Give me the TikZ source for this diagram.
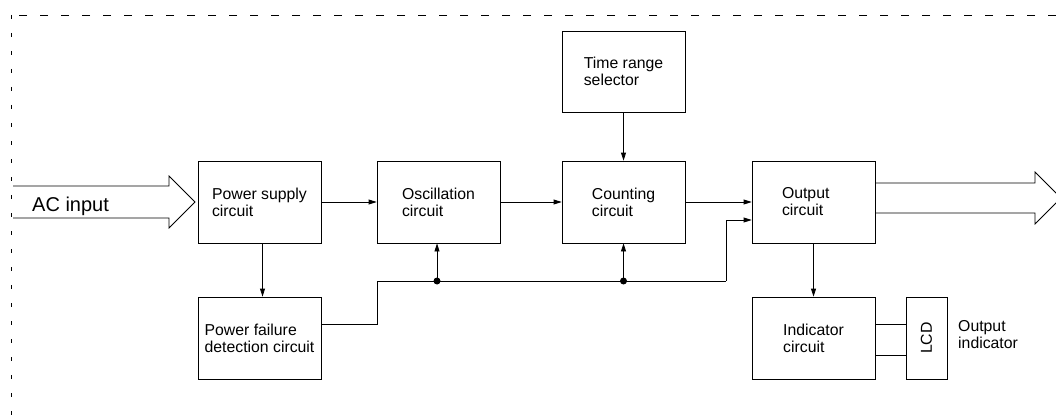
\documentclass[tikz,border=0pt]{standalone}
\usepackage{fontspec}
\setmainfont{Liberation Sans}
\usetikzlibrary{arrows.meta,positioning,calc}

\tikzset{
    block/.style={draw, line width=0.8pt, minimum width=123pt, minimum height=82pt, align=left, font=\fontsize{15.8}{17}\selectfont},
    sig/.style={line width=0.8pt, -{Triangle[length=8pt,width=5pt]}},
    wire/.style={line width=0.8pt},
    frame/.style={line width=0.6pt, dash pattern=on 8pt off 13pt}
}

\begin{document}
\begin{tikzpicture}[x=1pt, y=-1pt]
    \useasboundingbox (0,0) rectangle (1056,417);

    % Dashed frame
    \draw[frame] (1056,15) -- (11,15);
    \draw[line width=0.6pt, dash pattern=on 4pt off 14pt] (11,15) -- (11,417);

    % Blocks
    \node[block] (psu) at (259.5,202) {Power supply\\circuit};
    \node[block] (pfd) at (259.5,338) {Power failure\\detection circuit};
    \node[block] (osc) at (438.5,202) {Oscillation\\circuit};
    \node[block] (cnt) at (623.5,202) {Counting\\circuit};
    \node[block, minimum height=81pt] (trs) at (623.5,71.5) {Time range\\selector};
    \node[block, text width=63pt] (outc) at (813.5,202) {Output\\circuit};
    \node[block] (ind) at (813.5,338) {Indicator\\circuit};
    \node[block, minimum width=82pt, minimum height=41pt, rotate=90] (lcd) at (926.5,338) {LCD};
    \node[font=\fontsize{15.8}{17}\selectfont, align=left, anchor=west, inner sep=0pt] (outind) at (958,335) {Output\\indicator};

    % AC input arrow
    \coordinate (actail) at (13,202);
    \coordinate (actip) at (195,202);
    \draw[wire] ($(actail)+(0,-16)$) -- ($(actip)+(-26,-16)$) -- ($(actip)+(-26,-26)$) -- (actip)
        -- ($(actip)+(-26,26)$) -- ($(actip)+(-26,16)$) -- ($(actail)+(0,16)$);
    \node[font=\fontsize{20}{22}\selectfont, anchor=base west, inner sep=0pt] (acin) at (32,211) {AC input};

    % Output arrow
    \coordinate (outtail) at (875,198);
    \coordinate (outtip) at (1061,198);
    \draw[wire] ($(outtail)+(0,-15)$) -- ($(outtip)+(-26,-15)$) -- ($(outtip)+(-26,-26)$) -- (outtip)
        -- ($(outtip)+(-26,26)$) -- ($(outtip)+(-26,15)$) -- ($(outtail)+(0,15)$);

    % Signal flow
    \draw[sig] (psu) -- (osc);
    \draw[sig] (osc) -- (cnt);
    \draw[sig] (cnt) -- (outc);
    \draw[sig] ([xshift=3pt]psu.south) -- ([xshift=3pt]pfd.north);
    \draw[sig] (trs) -- (cnt);
    \draw[sig] (outc) -- (ind);

    % Power failure bus
    \coordinate (bus1) at (377,281);
    \coordinate (bus2) at (726,281);
    \coordinate (j1) at (437,281);
    \coordinate (j2) at (623.5,281);
    \draw[wire] ([yshift=14pt]pfd.east) -| (bus1) -- (bus2);
    \draw[sig] (bus2) |- ([yshift=-18pt]outc.west);
    \draw[sig] (j1) -- (j1 |- osc.south);
    \draw[sig] (j2) -- (cnt.south);
    \fill (j1) circle (3.5pt);
    \fill (j2) circle (3.5pt);

    % Indicator to LCD
    \draw[wire] ([yshift=14pt]ind.east) -- ([yshift=14pt]ind.east -| lcd.north);
    \draw[wire] ([yshift=-17pt]ind.east) -- ([yshift=-17pt]ind.east -| lcd.north);
\end{tikzpicture}
\end{document}
